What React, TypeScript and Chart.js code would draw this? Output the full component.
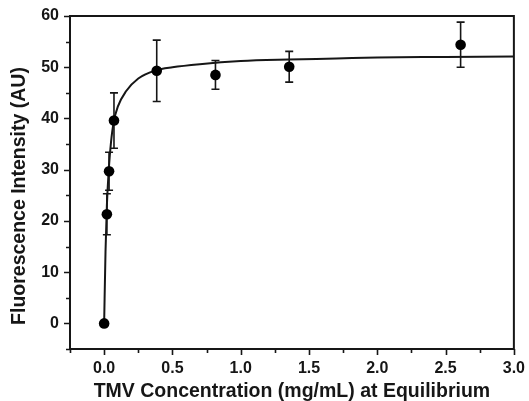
import React, { useEffect, useRef } from "react";
import { Chart, registerables } from "chart.js";

Chart.register(...registerables);

const pointX = [0, 0.02, 0.036, 0.072, 0.385, 0.815, 1.355, 2.61];
const pointY = [0, 21.3, 29.7, 39.6, 49.3, 48.5, 50.1, 54.4];
const pointErr = [0, 4.0, 3.7, 5.4, 6.0, 2.8, 3.0, 4.4];

const curveX = [0, 0.01, 0.02, 0.035, 0.05, 0.07, 0.1, 0.16, 0.25, 0.38, 0.5, 0.7, 1.0, 1.35, 1.7, 2.0, 2.5, 3.0];
const curveY = [0, 14, 23, 30.5, 35.3, 39.3, 42.3, 45.3, 47.8, 49.4, 50.0, 50.6, 51.2, 51.5, 51.7, 51.9, 52.0, 52.1];

const xTitle = "TMV Concentration (mg/mL) at Equilibrium";
const yTitle = "Fluorescence Intensity (AU)";

const FONT = "'Liberation Sans', Arial, sans-serif";
const INK = "#161616";

const framePlugin = {
  id: "frameTicksErr",
  beforeDatasetsDraw(chart: any) {
    const ctx = chart.ctx;
    const xs = chart.scales.x;
    const ys = chart.scales.y;
    ctx.save();
    ctx.strokeStyle = INK;
    ctx.lineWidth = 1.6;
    pointX.forEach((xv, i) => {
      const e = pointErr[i];
      if (!e) return;
      const px = xs.getPixelForValue(xv);
      const top = ys.getPixelForValue(pointY[i] + e);
      const bot = ys.getPixelForValue(pointY[i] - e);
      ctx.beginPath();
      ctx.moveTo(px, top);
      ctx.lineTo(px, bot);
      ctx.moveTo(px - 4, top);
      ctx.lineTo(px + 4, top);
      ctx.moveTo(px - 4, bot);
      ctx.lineTo(px + 4, bot);
      ctx.stroke();
    });
    ctx.restore();
  },
  afterDraw(chart: any) {
    const ctx = chart.ctx;
    const a = chart.chartArea;
    const xs = chart.scales.x;
    const ys = chart.scales.y;
    ctx.save();
    ctx.strokeStyle = INK;
    ctx.lineWidth = 2;
    ctx.strokeRect(a.left, a.top, a.right - a.left, a.bottom - a.top);
    ctx.lineWidth = 1.6;
    ctx.beginPath();
    xs.ticks.forEach((t: any) => {
      const v = t.value;
      const major = Math.abs(v * 2 - Math.round(v * 2)) < 1e-6;
      const px = Math.round(xs.getPixelForValue(v)) + 0.5;
      ctx.moveTo(px, a.bottom);
      ctx.lineTo(px, a.bottom + (major ? 6 : 4));
    });
    ys.ticks.forEach((t: any) => {
      const v = t.value;
      const major = Math.abs(v % 10) < 1e-6;
      const py = Math.round(ys.getPixelForValue(v)) + 0.5;
      ctx.moveTo(a.left, py);
      ctx.lineTo(a.left - (major ? 6 : 4), py);
    });
    ctx.stroke();
    // y-axis title, placed where the reference has it (slightly below the axis centre)
    ctx.fillStyle = INK;
    ctx.font = `bold 19.5px ${FONT}`;
    ctx.textAlign = "center";
    ctx.textBaseline = "middle";
    ctx.translate(20, 196);
    ctx.rotate(-Math.PI / 2);
    ctx.fillText(yTitle, 0, 0);
    ctx.restore();
  },
};

export default function App() {
  const ref = useRef<HTMLCanvasElement>(null);
  useEffect(() => {
    document.body.style.margin = "0";
    const chart = new Chart(ref.current as HTMLCanvasElement, {
      type: "scatter",
      data: {
        datasets: [
          {
            data: curveX.map((x, i) => ({ x, y: curveY[i] })),
            showLine: true,
            borderColor: INK,
            borderWidth: 2,
            pointRadius: 0,
            cubicInterpolationMode: "monotone",
            order: 2,
          } as any,
          {
            data: pointX.map((x, i) => ({ x, y: pointY[i] })),
            showLine: false,
            pointRadius: 5.3,
            backgroundColor: "#000",
            borderColor: "#000",
            borderWidth: 0,
            order: 1,
          },
        ],
      },
      options: {
        animation: false,
        responsive: false,
        devicePixelRatio: 1,
        layout: { padding: { top: 16, right: 12, left: 0, bottom: 0 } },
        plugins: { legend: { display: false }, tooltip: { enabled: false } },
        scales: {
          x: {
            type: "linear",
            min: -0.25,
            max: 3.0,
            afterFit(s: any) {
              s.height = 52;
            },
            grid: { display: true, drawOnChartArea: false, drawTicks: true, tickLength: 6, tickColor: "rgba(0,0,0,0)" },
            border: { display: false },
            ticks: {
              stepSize: 0.25,
              autoSkip: false,
              maxRotation: 0,
              padding: 4,
              color: INK,
              font: { family: FONT, size: 16, weight: "bold" },
              callback: (v: any) => {
                const n = Number(v);
                return Math.abs(n * 2 - Math.round(n * 2)) < 1e-6 ? n.toFixed(1) : "";
              },
            },
            title: {
              display: true,
              text: xTitle,
              color: INK,
              padding: { top: 0, bottom: 0 },
              font: { family: FONT, size: 19.5, weight: "bold", lineHeight: 1.0 },
            },
          },
          y: {
            type: "linear",
            min: -5,
            max: 60,
            afterFit(s: any) {
              s.width = 70;
            },
            grid: { display: true, drawOnChartArea: false, drawTicks: true, tickLength: 6, tickColor: "rgba(0,0,0,0)" },
            border: { display: false },
            ticks: {
              stepSize: 5,
              autoSkip: false,
              padding: 5,
              color: INK,
              font: { family: FONT, size: 16, weight: "bold" },
              callback: (v: any) => {
                const n = Number(v);
                return Math.abs(n % 10) < 1e-6 ? String(n) : "";
              },
            },
            title: { display: false, text: yTitle },
          },
        },
      },
      plugins: [framePlugin],
    });
    return () => chart.destroy();
  }, []);
  return (
    <div style={{ width: 529, height: 401 }}>
      <canvas ref={ref} width={529} height={401} />
    </div>
  );
}
